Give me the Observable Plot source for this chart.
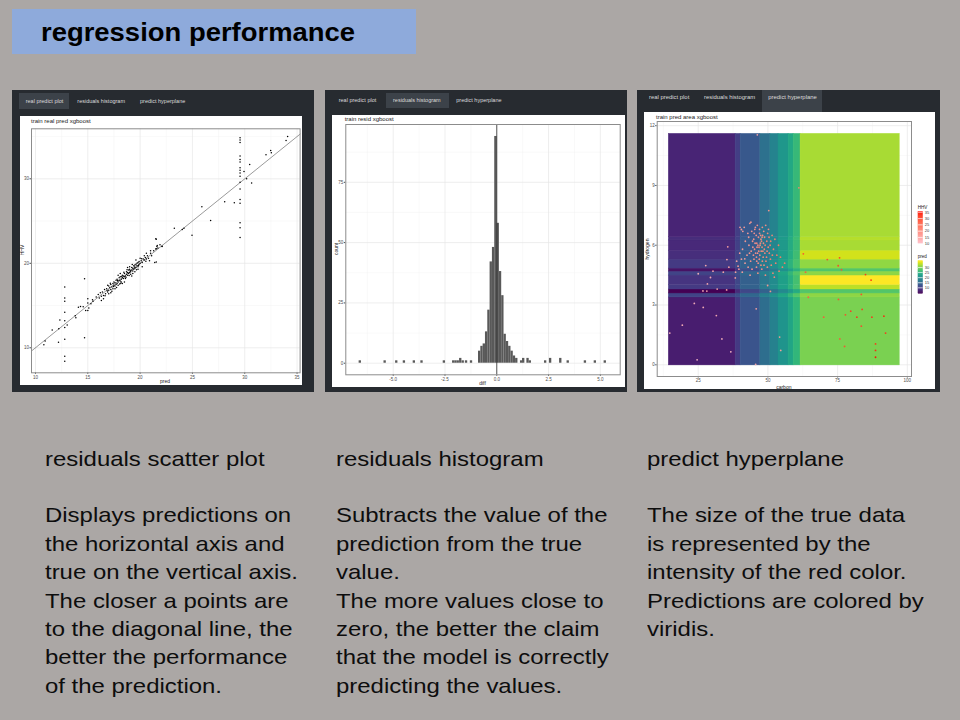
<!DOCTYPE html>
<html><head><meta charset="utf-8">
<script src="https://cdn.jsdelivr.net/npm/d3@7"></script>
<script src="https://cdn.jsdelivr.net/npm/@observablehq/plot@0.6"></script>
<style>
html,body{margin:0;padding:0}
body{width:960px;height:720px;background:#aba7a5;position:relative;overflow:hidden;font-family:"Liberation Sans",Arial,sans-serif}
.box{position:absolute}
.frame{position:absolute;background:#272b30}
.tabbg{position:absolute;background:#3c4249}
.tab{position:absolute;font-size:5.5px;color:#dcdcdc;white-space:nowrap;line-height:6px}
.ptitle{position:absolute;font-size:6px;color:#1a1a1a;white-space:nowrap;line-height:6px}
.atitle{position:absolute;font-size:5px;color:#1a1a1a;white-space:nowrap;line-height:5px;transform:translate(-50%,-50%)}
.ytitle{position:absolute;font-size:5px;color:#1a1a1a;white-space:nowrap;line-height:5px;transform:translate(-50%,-50%) rotate(-90deg)}
.ltitle{position:absolute;font-size:4.6px;color:#1a1a1a;white-space:nowrap;line-height:5px}
.col{position:absolute;font-size:21px;line-height:28.4px;color:#0d0d0d;white-space:pre;transform:scaleX(1.14);transform-origin:0 0}
.plot{position:absolute}
</style></head>
<body>
<div class="box" style="left:12px;top:9px;width:404px;height:45px;background:#8eaadb"></div>
<div class="box" style="left:41px;top:19px;font-size:26px;line-height:26px;font-weight:bold;color:#000;white-space:nowrap;transform:scaleX(1.055);transform-origin:0 0">regression performance</div>

<div class="frame" style="left:12px;top:90px;width:302px;height:302px"></div>
<div class="frame" style="left:325px;top:90px;width:302px;height:302px"></div>
<div class="frame" style="left:637px;top:90px;width:303px;height:302px"></div>

<div class="tabbg" style="left:19px;top:93px;width:50px;height:15.5px"></div>
<div class="tabbg" style="left:386px;top:92.5px;width:62.5px;height:15.5px"></div>
<div class="tabbg" style="left:762px;top:90px;width:60px;height:21.7px"></div>

<div class="tab" style="left:25.7px;top:97.7px">real predict plot</div>
<div class="tab" style="left:77.3px;top:97.7px">residuals histogram</div>
<div class="tab" style="left:140px;top:97.7px">predict hyperplane</div>
<div class="tab" style="left:338.7px;top:97px">real predict plot</div>
<div class="tab" style="left:393px;top:97px">residuals histogram</div>
<div class="tab" style="left:456.3px;top:97px">predict hyperplane</div>
<div class="tab" style="left:649px;top:93.7px;font-size:5.9px">real predict plot</div>
<div class="tab" style="left:704px;top:93.7px;font-size:5.9px">residuals histogram</div>
<div class="tab" style="left:768.3px;top:93.7px;font-size:5.9px">predict hyperplane</div>

<div id="p1" class="plot" style="left:20px;top:116px"></div>
<div id="p2" class="plot" style="left:332px;top:115px"></div>
<div id="p3" class="plot" style="left:644px;top:112px"></div>
<div id="p3o" class="plot" style="left:644px;top:112px"></div>
<div id="l1" class="plot" style="left:917.7px;top:208px"></div>
<div id="l2" class="plot" style="left:917.7px;top:257px"></div>

<div class="ptitle" style="left:31px;top:117.5px">train real pred xgboost</div>
<div class="atitle" style="left:165px;top:381px">pred</div>
<div class="ytitle" style="left:21.7px;top:250px">HHV</div>

<div class="ptitle" style="left:344.7px;top:116.3px">train resid xgboost</div>
<div class="atitle" style="left:482.5px;top:382.7px">diff</div>
<div class="ytitle" style="left:336.3px;top:249px">count</div>

<div class="ptitle" style="left:656px;top:114.3px">train pred area xgboost</div>
<div class="atitle" style="left:783.8px;top:386.7px">carbon</div>
<div class="ytitle" style="left:647.3px;top:248.5px">hydrogen</div>
<div class="ltitle" style="left:917.7px;top:204.5px">HHV</div>
<div class="ltitle" style="left:917.7px;top:253.5px">pred</div>

<div class="col" style="left:45px;top:444.5px">residuals scatter plot

Displays predictions on
the horizontal axis and
true on the vertical axis.
The closer a points are
to the diagonal line, the
better the performance
of the prediction.</div>
<div class="col" style="left:335.5px;top:444.5px">residuals histogram

Subtracts the value of the
prediction from the true
value.
The more values close to
zero, the better the claim
that the model is correctly
predicting the values.</div>
<div class="col" style="left:647px;top:444.5px">predict hyperplane

The size of the true data
is represented by the
intensity of the red color.
Predictions are colored by
viridis.</div>

<script>
// ---------- residuals scatter plot (pred vs true) ----------
const scatterXDomain = [9.62, 35.29];
const scatterYDomain = [7.04, 35.92];
const scatterXTicks = [10, 15, 20, 25, 30, 35];
const scatterXMinor = [12.5, 17.5, 22.5, 27.5, 32.5];
const scatterYTicks = [10, 20, 30];
const scatterYMinor = [15, 25, 35];
const clusterPoints = [
 [16.0,16.3],[16.1,15.9],[16.2,16.5],[16.3,16.1],[16.4,16.6],[16.5,16.2],[16.6,16.9],[16.7,16.4],[16.8,17.0],[16.9,16.6],
 [17.0,17.3],[17.0,16.8],[17.1,17.1],[17.2,16.9],[17.2,17.5],[17.3,17.2],[17.4,17.6],[17.4,17.0],[17.5,17.4],[17.5,17.8],
 [17.6,17.3],[17.6,17.7],[17.7,17.5],[17.7,18.0],[17.8,17.6],[17.8,18.1],[17.9,17.8],[17.9,17.4],[18.0,18.0],[18.0,18.3],
 [18.1,17.9],[18.1,18.4],[18.2,18.1],[18.2,17.8],[18.3,18.3],[18.3,18.6],[18.4,18.2],[18.4,18.5],[18.5,18.4],[18.5,18.8],
 [18.6,18.5],[18.6,18.2],[18.7,18.7],[18.7,19.0],[18.8,18.6],[18.8,18.9],[18.9,18.8],[18.9,19.2],[19.0,18.9],[19.0,19.3],
 [19.1,19.0],[19.1,18.7],[19.2,19.2],[19.2,19.5],[19.3,19.1],[19.3,19.4],[19.4,19.3],[19.4,19.7],[19.5,19.4],[19.5,19.8],
 [19.6,19.5],[19.6,19.9],[19.7,19.7],[19.7,20.0],[19.8,19.6],[19.8,20.1],[19.9,19.9],[19.9,20.2],[20.0,20.0],[20.1,20.3],
 [20.2,20.1],[20.3,20.5],[20.4,20.4],[20.5,20.7],[20.6,20.5],[20.7,20.9],[20.8,20.6],[21.0,21.2],[21.1,20.9],[21.3,21.5],
 [21.5,21.7],[21.6,22.0],[21.7,21.8],[21.4,20.1],[20.2,19.6],[18.5,17.8],[17.3,16.7],[16.5,15.8],[19.0,19.6],[17.9,18.6],
 [18.3,17.6],[19.6,20.4],[20.6,21.2],[20.9,20.3],[17.2,16.5],[18.8,19.5],[19.3,18.8],[21.9,22.2],[22.1,22.0],[21.5,22.9],
 [15.8,16.0],[15.5,15.5],[15.3,15.2],[15.0,15.3],[14.8,14.4],[19.5,19.0],[19.8,19.3],[20.0,20.6],[18.1,18.8],[17.6,17.0],
 [16.9,17.4],[16.3,15.6],[17.0,16.4],[20.4,20.9],[19.2,18.5],[21.54,22.86],[21.64,22.11],[21.54,21.72],[22.1,22.03],[21.0,21.5],[21.54,20.14],
 [17.45,17.25],[17.85,17.95],[18.25,18.45],[18.65,18.35],[19.05,19.15],[19.45,19.55],[19.85,19.75],[18.95,18.55],[18.15,17.65],[17.75,17.15],
 [19.25,19.85],[18.45,18.95],[17.15,17.65],[16.65,16.15],[20.15,20.55],[20.55,20.25],[19.65,19.25],[18.75,19.25],[18.05,17.55],[16.85,16.75]
];
const outlierPoints = [
 [29.55,34.85],[29.55,34.6],[29.55,34.3],[29.55,32.7],[29.55,32.3],[29.55,32.0],[29.55,31.3],[29.55,31.0],[29.55,30.7],
 [29.55,30.3],[29.55,29.6],[29.55,28.8],[29.55,27.55],[29.55,27.1],[29.55,24.8],[29.55,24.2],[29.55,23.05],
 [30.47,31.7],[29.93,30.87],[30.18,30.0],[30.66,29.5],[32.03,32.84],[32.48,33.35],[32.54,33.08],[33.95,34.54],[34.1,35.0],
 [28.08,27.3],[29.0,27.16],[25.9,26.7],[26.74,25.07],[23.27,24.16],[24.03,24.0],[24.19,24.16],[24.96,23.33],
 [12.8,17.2],[12.8,15.9],[12.8,15.5],[12.8,14.2],[12.8,13.2],[12.8,12.4],[12.8,11.0],[12.8,9.0],[12.8,8.4],
 [14.69,18.17],[14.69,11.2],[14.1,14.8],[13.8,13.8],[13.86,13.55],[12.33,13.3],[12.23,12.25],[11.6,12.1],[10.92,10.8],
 [10.8,10.35],[15.0,15.8],[15.0,14.4],[15.1,14.7],[15.45,15.7],[13.03,12.7],[12.2,10.67],[14.3,14.9],[14.56,14.85]
];

// ---------- residuals histogram ----------
const histBinWidth = 0.112;
const histCenters = [-6.59,-5.39,-4.83,-4.46,-3.98,-3.61,-2.53,-2.08,-1.97,-1.86,-1.74,-1.62,-1.46,-1.22,
 -0.826,-0.714,-0.602,-0.490,-0.378,-0.266,-0.154,-0.042,0.070,0.182,0.294,0.406,0.518,0.630,0.742,0.854,0.966,
 1.20,1.30,1.51,1.62,2.36,2.60,3.09,3.45,4.28,4.76,5.24];
const histCounts = [1,1,1,1,1,1,1,1,1,1,2,1,1,1,
 5,7,8,13,22,42,48,94,58,38,28,12,9,7,5,3,2,
 1,2,2,1,1,2,2,1,1,1,1];
const histXDomain = [-7.29, 5.96];
const histYDomain = [-4.8, 98.96];
const histXTicks = [-5, -2.5, 0, 2.5, 5];
const histXTickLabels = ["-5.0", "-2.5", "0.0", "2.5", "5.0"];
const histXMinor = [-6.25, -3.75, -1.25, 1.25, 3.75];
const histYTicks = [0, 25, 50, 75];
const histYMinor = [12.5, 37.5, 62.5, 87.5];

// ---------- predict hyperplane ----------
const hyperXDomain = [10.29, 101.5];
const hyperYDomain = [-0.587, 12.21];
const hyperXTicks = [25, 50, 75, 100];
const hyperXMinor = [12.5, 37.5, 62.5, 87.5];
const hyperYTicks = [0, 3, 6, 9, 12];
const hyperYMinor = [1.5, 4.5, 7.5, 10.5];
const carbonEdges = [14.45, 38.4, 40.2, 47.3, 50.9, 53.8, 57.4, 59.2, 61.7, 97.3];
const hydrogenEdges = [-0.03, 3.38, 3.58, 3.78, 4.01, 4.48, 4.68, 4.83, 5.28, 5.73, 6.24, 6.40, 11.59];
const predRows = [
 [6.7, 9.5,12.4,15.6,18.1,20.7,23.0,25.2,29.8],
 [10.5,11.8,14.7,17.9,20.4,23.0,25.3,27.5,30.7],
 [4.1, 8.0,10.9,14.1,16.6,19.2,21.5,23.7,27.5],
 [9.5,11.2,14.1,17.3,19.8,22.4,24.7,26.9,33.0],
 [8.9,10.9,13.8,17.0,19.5,22.1,24.4,26.6,36.2],
 [10.5,11.8,14.7,17.9,20.4,23.0,25.3,27.5,30.7],
 [5.7, 8.9,11.8,15.0,17.5,20.1,22.4,24.6,27.5],
 [9.5,11.2,14.1,17.3,19.8,22.4,24.7,26.9,30.9],
 [8.3,10.5,13.4,16.6,19.1,21.7,24.0,26.2,34.0],
 [7.8,10.2,13.1,16.3,18.8,21.4,23.7,25.9,32.0],
 [8.2,10.4,13.3,16.5,19.0,21.6,23.9,26.1,32.6],
 [7.3, 9.9,12.8,16.0,18.5,21.1,23.4,25.6,32.0]
];
const predDomain = [4.1, 36.2];
const predLegendTicks = [10, 15, 20, 25, 30];
const hhvDomain = [9.8, 35.2];
const hhvLegendTicks = [10, 15, 20, 25, 30, 35];
// [carbon, hydrogen, HHV]
const hyperPoints = [
 [14.8,1.59,11],[19.3,1.99,12],[23.6,3.08,11.5],[26.8,2.88,12],[24.6,0.25,10],[31.5,2.47,12.5],[33.5,1.30,11],
 [36.7,0.65,10.5],[27.7,4.98,13],[25.0,4.57,12],[28.3,4.06,13.5],[26.7,3.71,12.5],[28.1,3.70,13],[31.8,3.80,14],
 [35.2,3.76,14],[29.4,4.38,13],[30.3,4.70,13.5],[34.0,4.65,14.5],[35.6,5.92,15],[35.3,5.28,14.5],[36.0,4.9,15],
 [38.4,4.65,15.5],[38.3,4.36,15],[39.3,4.95,16],[40.8,4.65,16],[41.7,5.32,16.5],[40.5,6.79,16],[40.0,6.9,15.5],
 [43.9,7.16,17],[45.8,2.81,15],[49.9,3.98,17],[50.9,3.68,17.5],[50.3,7.74,18],[54.2,1.39,16],[54.6,0.72,15.5],
 [61.1,8.88,22],[46.2,11.54,15],[45.6,0.02,14],
 [44.5,6.2,18],[45.2,5.8,19],[46.0,6.1,20],[46.8,5.9,21],[47.5,6.3,19],[48.2,5.7,20],[49.0,6.0,22],[47.1,5.5,19],
 [46.3,5.6,18],[45.8,6.5,17],[48.8,6.4,20],[50.1,5.9,21],[51.0,6.2,22],[44.0,5.7,18],[43.2,6.0,17],[42.5,5.5,17],
 [43.8,5.2,18],[45.0,5.3,19],[46.5,5.1,19],[48.0,5.2,20],[49.5,5.4,21],[50.5,5.6,21],[52.0,5.8,22],[51.5,6.5,21],
 [50.2,6.8,19],[48.5,6.7,18],[47.0,6.8,18],[45.5,6.9,17],[44.2,6.7,17],[42.8,6.6,16],[41.5,6.9,16],[41.0,6.7,16],
 [43.5,7.1,17],[46.2,7.0,18],[49.2,7.0,19],[52.5,6.3,22],[53.2,5.5,23],[52.8,5.1,22],[51.2,5.0,21],[49.8,4.9,20],
 [47.8,4.8,19],[45.9,4.9,18],[44.3,4.8,17],[42.9,4.9,17],[41.8,5.1,16],[40.5,5.3,16],[40.9,5.8,16],[41.9,6.2,17],
 [43.1,6.4,17],[47.3,6.1,20],[47.9,5.9,21],[46.6,6.4,19],[48.4,6.1,20],[47.6,5.7,20],[46.1,5.9,19],[45.4,6.1,18],
 [48.9,5.6,21],[49.6,6.2,21],[50.8,6.0,22],[44.8,5.5,18],[46.9,5.3,19],[48.6,5.0,20],[50.9,5.3,22],[53.8,6.0,23],
 [54.5,5.4,23],[55.2,4.9,22],[51.8,4.6,21],[49.1,4.5,20],[46.4,4.6,19],[43.6,4.5,17],[39.6,4.8,16],[38.8,5.2,15],
 [39.9,5.6,16],[54.0,4.7,22],[52.3,4.4,21],[56.0,5.1,23],[45.1,6.6,18],[48.1,6.5,19],[49.9,6.6,20],[47.4,6.5,19],
 [46.7,5.7,20],[45.6,5.6,19],[47.2,6.0,20],[48.3,5.4,20],[44.6,5.9,18],
 [47.7,6.2,21],[46.4,6.0,20],[48.7,5.8,21],[45.9,5.4,19],[49.3,5.2,21],[47.0,6.6,19],[44.9,6.3,18],[48.0,6.9,19],
 [50.4,6.4,21],[46.0,5.2,19],[43.4,5.6,17],[51.6,5.5,22],[47.5,5.0,20],[45.3,6.8,18],[49.7,5.7,21],[47.9,6.4,20],
 [62.7,5.57,30],[71.3,5.28,31],[75.7,5.37,32],[75.2,4.97,31],[76.4,4.77,30],[85.0,4.53,33],[87.0,4.25,34],
 [83.5,3.53,31],[75.3,3.28,30],[64.5,3.39,28],[70.0,2.39,29],[77.8,2.51,31],[79.7,2.69,32],[81.9,2.39,33],
 [83.8,2.78,32],[87.3,2.39,33],[91.6,2.44,34],[83.5,1.94,31],[92.2,1.59,33],[75.8,1.30,29],[77.5,0.92,30],
 [88.6,1.05,33],[88.6,0.72,34],[88.6,0.38,35],[63.5,4.65,29]
];

const FONT = '"Liberation Sans", Arial, sans-serif';
const baseStyle = {fontFamily: FONT, fontSize: "4.5px", color: "#4d4d4d", background: "white", overflow: "visible"};
const gridMajor = {stroke: "#e6e6e6", strokeWidth: 0.7};
const gridMinor = {stroke: "#f2f2f2", strokeWidth: 0.45};
const frameStyle = {stroke: "#8c8c8c", strokeWidth: 1};

// Plot 1
const p1 = Plot.plot({
  width: 282, height: 269, marginTop: 12.3, marginRight: 2.4, marginBottom: 12.7, marginLeft: 11,
  style: baseStyle,
  x: {domain: scatterXDomain, ticks: scatterXTicks, tickSize: 1.5, tickPadding: 1, label: null},
  y: {domain: scatterYDomain, ticks: scatterYTicks, tickSize: 1.5, tickPadding: 1, label: null},
  marks: [
    Plot.ruleX(scatterXMinor, gridMinor),
    Plot.ruleY(scatterYMinor, gridMinor),
    Plot.ruleX(scatterXTicks, gridMajor),
    Plot.ruleY(scatterYTicks, gridMajor),
    Plot.line(scatterXDomain, {x: d => d, y: d => d, stroke: "#555", strokeWidth: 0.6}),
    Plot.dot(clusterPoints.concat(outlierPoints), {x: d => d[0], y: d => d[1], r: 0.75, fill: "black"}),
    Plot.frame(frameStyle)
  ]
});
document.getElementById("p1").append(p1);

// Plot 2
const histBins = histCenters.map((c, i) => ({c, n: histCounts[i]}));
const p2 = Plot.plot({
  width: 293, height: 272, marginTop: 9, marginRight: 5.3, marginBottom: 12.7, marginLeft: 13.3,
  style: baseStyle,
  x: {domain: histXDomain, ticks: histXTicks, tickFormat: (d) => histXTickLabels[histXTicks.indexOf(d)], tickSize: 1.5, tickPadding: 1, label: null},
  y: {domain: histYDomain, ticks: histYTicks, tickSize: 1.5, tickPadding: 1, label: null},
  marks: [
    Plot.ruleX(histXMinor, gridMinor),
    Plot.ruleY(histYMinor, gridMinor),
    Plot.ruleX(histXTicks, gridMajor),
    Plot.ruleY(histYTicks, gridMajor),
    Plot.rect(histBins, {x1: d => d.c - histBinWidth / 2, x2: d => d.c + histBinWidth / 2, y1: 0, y2: "n", fill: "#595959"}),
    Plot.ruleX([0], {stroke: "#111", strokeWidth: 0.7}),
    Plot.frame(frameStyle)
  ]
});
document.getElementById("p2").append(p2);

// Plot 3
const cells = [];
predRows.forEach((row, i) => row.forEach((v, j) => cells.push({
  x1: carbonEdges[j], x2: carbonEdges[j + 1], y1: hydrogenEdges[i], y2: hydrogenEdges[i + 1], v
})));
const dims3 = {width: 291, height: 277, marginTop: 9, marginRight: 24, marginBottom: 13, marginLeft: 12.7};
const p3 = Plot.plot({
  ...dims3,
  style: baseStyle,
  x: {domain: hyperXDomain, ticks: hyperXTicks, tickSize: 1.5, tickPadding: 1, label: null},
  y: {domain: hyperYDomain, ticks: hyperYTicks, tickSize: 1.5, tickPadding: 1, label: null},
  color: {type: "linear", scheme: "viridis", domain: predDomain},
  marks: [
    Plot.ruleX(hyperXMinor, gridMinor),
    Plot.ruleY(hyperYMinor, gridMinor),
    Plot.ruleX(hyperXTicks, gridMajor),
    Plot.ruleY(hyperYTicks, gridMajor),
    Plot.rect(cells, {x1: "x1", x2: "x2", y1: "y1", y2: "y2", fill: "v", stroke: "v", strokeWidth: 0.4}),
    Plot.frame(frameStyle)
  ]
});
document.getElementById("p3").append(p3);

const p3o = Plot.plot({
  ...dims3,
  style: {background: "transparent", overflow: "visible"},
  x: {domain: hyperXDomain, axis: null},
  y: {domain: hyperYDomain, axis: null},
  color: {type: "linear", domain: hhvDomain, range: ["pink", "red"], interpolate: d3.interpolateLab},
  marks: [
    Plot.dot(hyperPoints, {x: d => d[0], y: d => d[1], fill: d => d[2], r: 0.9, fillOpacity: 0.92})
  ]
});
document.getElementById("p3o").append(p3o);

// Legends (colourbars)
function colourbar(id, domain, ticks, colorOpts, height, mt, mb) {
  const step = (domain[1] - domain[0]) / 120;
  const stops = d3.range(domain[0], domain[1], step);
  const svg = Plot.plot({
    width: 20, height, marginTop: mt, marginBottom: mb, marginLeft: 0, marginRight: 15.3,
    style: {fontFamily: FONT, fontSize: "4px", color: "#333", background: "transparent", overflow: "visible"},
    x: {domain: [0, 1], axis: null},
    y: {domain, ticks, axis: "right", tickSize: 0, tickPadding: 1.6, label: null},
    color: colorOpts,
    marks: [
      Plot.rect(stops, {x1: 0, x2: 1, y1: d => d, y2: d => d + step, fill: d => d, stroke: d => d, strokeWidth: 0.3}),
      Plot.tickY(ticks, {x1: 0, x2: 0.25, stroke: "white", strokeWidth: 0.4}),
      Plot.tickY(ticks, {x1: 0.75, x2: 1, stroke: "white", strokeWidth: 0.4})
    ]
  });
  document.getElementById(id).append(svg);
}
colourbar("l1", hhvDomain, hhvLegendTicks, {type: "linear", domain: hhvDomain, range: ["pink", "red"], interpolate: d3.interpolateLab}, 38, 3.5, 2.5);
colourbar("l2", predDomain, predLegendTicks, {type: "linear", scheme: "viridis", domain: predDomain}, 39, 3.7, 2.7);
</script>
</body></html>
